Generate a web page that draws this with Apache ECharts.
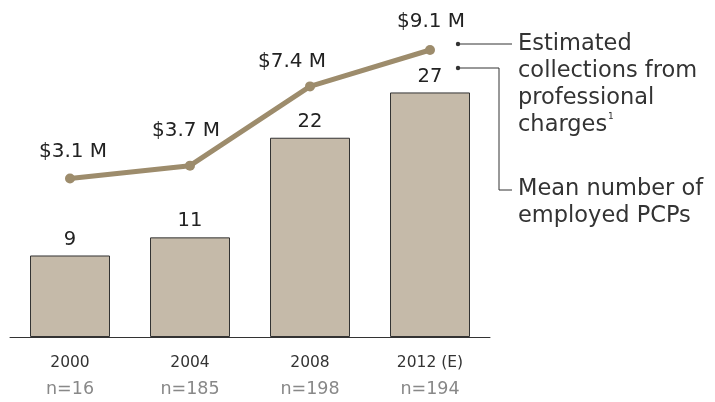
<!DOCTYPE html>
<html><head><meta charset="utf-8">
<script src="https://cdn.jsdelivr.net/npm/echarts@6/dist/echarts.min.js"></script>
<style>html,body{margin:0;padding:0;background:#fff}#c{width:715px;height:402px}</style>
</head><body><div id="c"></div>
<script>
const years = ['2000', '2004', '2008', '2012 (E)'];
const sampleSizes = ['n=16', 'n=185', 'n=198', 'n=194'];
const meanPCPs = [9, 11, 22, 27];
const collections = [3.1, 3.7, 7.4, 9.1];
const collectionLabels = ['$3.1 M', '$3.7 M', '$7.4 M', '$9.1 M'];

const FONT = '"DejaVu Sans", sans-serif';
const labelOffsets = [[3, 2], [-4, -6], [-18, 4], [1, 1]];

const chart = echarts.init(document.getElementById('c'));
chart.setOption({
  animation: false,
  grid: { left: 10, right: 225, top: 20, bottom: 65 },
  xAxis: {
    type: 'category',
    data: years.map((y, i) => y + '\n' + sampleSizes[i]),
    axisLine: { lineStyle: { color: '#333', width: 1 } },
    axisTick: { show: false },
    axisLabel: {
      margin: 14,
      formatter: v => { const p = v.split('\n'); return '{a|' + p[0] + '}\n{b|' + p[1] + '}'; },
      rich: {
        a: { fontFamily: FONT, fontSize: 15.5, color: '#333', lineHeight: 24 },
        b: { fontFamily: FONT, fontSize: 17.5, color: '#888', lineHeight: 28 }
      }
    }
  },
  yAxis: [
    { type: 'value', min: 0, max: 35, show: false, splitLine: { show: false } },
    { type: 'value', min: -4.3, max: 10.5, show: false, splitLine: { show: false } }
  ],
  series: [
    {
      type: 'bar',
      data: meanPCPs,
      barWidth: 80,
      itemStyle: { color: '#c5baa9', borderColor: '#333', borderWidth: 1 },
      label: { show: true, position: 'top', distance: 6, fontFamily: FONT, fontSize: 19.5, color: '#222' }
    },
    {
      type: 'line',
      yAxisIndex: 1,
      data: collections.map((v, i) => ({
        value: v,
        label: { offset: labelOffsets[i], formatter: collectionLabels[i] }
      })),
      lineStyle: { color: '#9d8c6c', width: 5 },
      itemStyle: { color: '#9d8c6c' },
      symbol: 'circle',
      symbolSize: 10,
      label: { show: true, position: 'top', distance: 14, fontFamily: FONT, fontSize: 20, color: '#222' },
      z: 5
    }
  ],
  graphic: [
    { type: 'circle', shape: { cx: 458, cy: 44, r: 2.2 }, style: { fill: '#333' } },
    { type: 'line', shape: { x1: 458, y1: 44, x2: 512, y2: 44 }, style: { stroke: '#333', lineWidth: 1 } },
    { type: 'circle', shape: { cx: 458, cy: 68, r: 2.2 }, style: { fill: '#333' } },
    { type: 'polyline', shape: { points: [[458, 68], [499, 68], [499, 190], [512, 190]] }, style: { stroke: '#333', lineWidth: 1, fill: null } },
    { type: 'text', left: 518, top: 31, style: { text: 'Estimated\ncollections from\nprofessional\ncharges{s|1}', fontFamily: FONT, fontSize: 22.5, lineHeight: 27, fill: '#333',
      rich: { s: { fontSize: 9, fontFamily: FONT, fill: '#333', verticalAlign: 'top', padding: [0, 0, 12, 1] } } } },
    { type: 'text', left: 518, top: 176, style: { text: 'Mean number of\nemployed PCPs', fontFamily: FONT, fontSize: 22.5, lineHeight: 27, fill: '#333' } }
  ]
});
</script>
</body></html>
